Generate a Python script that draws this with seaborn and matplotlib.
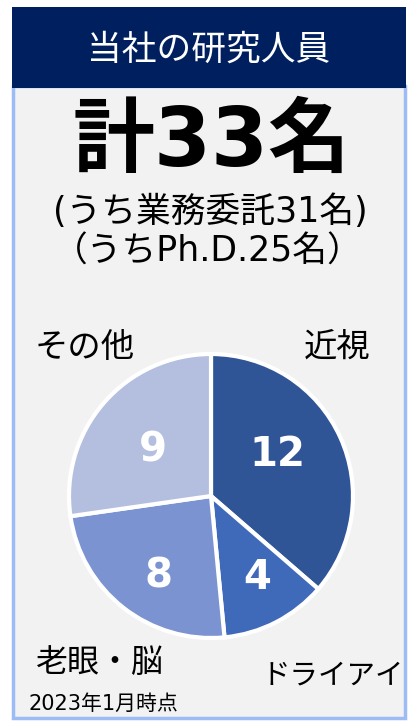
import matplotlib.pyplot as plt
import matplotlib.patches as patches
import seaborn as sns
import numpy as np

# data: researchers by field (as of Jan 2023)
categories = ['近視', 'ドライアイ', '老眼・脳', 'その他']
counts = [12, 4, 8, 9]
colors = ['#2f5597', '#3f69b9', '#7b93d0', '#b4bfe0']
title = '当社の研究人員'
total_text = '計33名'
sub1 = '(うち業務委託31名)'
sub2 = '（うちPh.D.25名）'
note = '2023年1月時点'

sns.set_style('white')
plt.rcParams['font.family'] = ['DejaVu Sans', 'Noto Sans CJK JP']
plt.rcParams['text.color'] = 'black'

W, H = 408, 722
fig = plt.figure(figsize=(W / 100, H / 100), dpi=100)

# background axes in pixel coords (y downwards)
bg = fig.add_axes([0, 0, 1, 1])
bg.set_xlim(0, W)
bg.set_ylim(H, 0)
bg.axis('off')

# panel with light blue border
bg.add_patch(patches.Rectangle((12.5, 86), 392, 632, facecolor='#f2f2f2',
                               edgecolor='#9dbcf5', linewidth=2.5))
# header
bg.add_patch(patches.Rectangle((12, 7), 394, 81, facecolor='#001f5f', edgecolor='none'))
bg.text(209, 50, title, color='white', fontsize=25, ha='center', va='center')

bg.text(212, 143, total_text, fontsize=59, fontweight='bold', ha='center', va='center')
bg.text(210, 212, sub1, fontsize=25, ha='center', va='center')
bg.text(208, 252, sub2, fontsize=25, ha='center', va='center')

# category labels around the pie
bg.text(337, 347, categories[0], fontsize=24, ha='center', va='center')
bg.text(333, 676, categories[1], fontsize=20.5, ha='center', va='center')
bg.text(100, 663, categories[2], fontsize=23, ha='center', va='center')
bg.text(85, 347, categories[3], fontsize=24, ha='center', va='center')
bg.text(28, 704, note, fontsize=15, ha='left', va='center')

# pie
cx, cy, r = 211, 496, 142
pad = 1.02
ax = fig.add_axes([(cx - r * pad) / W, (H - cy - r * pad) / H, 2 * r * pad / W, 2 * r * pad / H])
wedges, texts = ax.pie(counts, colors=colors, startangle=90, counterclock=False,
                       wedgeprops={'edgecolor': 'white', 'linewidth': 3})
ax.set_xlim(-pad, pad)
ax.set_ylim(-pad, pad)
ax.set_aspect('equal')
ax.axis('off')

# value labels inside the slices
label_r = [0.55, 0.66, 0.68, 0.52]
label_shift = [7, 2, 5, 3]
cum = np.cumsum([0] + counts)
tot = sum(counts)
for i, c in enumerate(counts):
    mid = 90 - 360 * (cum[i] + c / 2) / tot + label_shift[i]
    ang = np.deg2rad(mid)
    ax.text(label_r[i] * np.cos(ang), label_r[i] * np.sin(ang), str(c), color='white',
            fontsize=29, fontweight='bold', ha='center', va='center')

fig.savefig('out.png', dpi=100)
